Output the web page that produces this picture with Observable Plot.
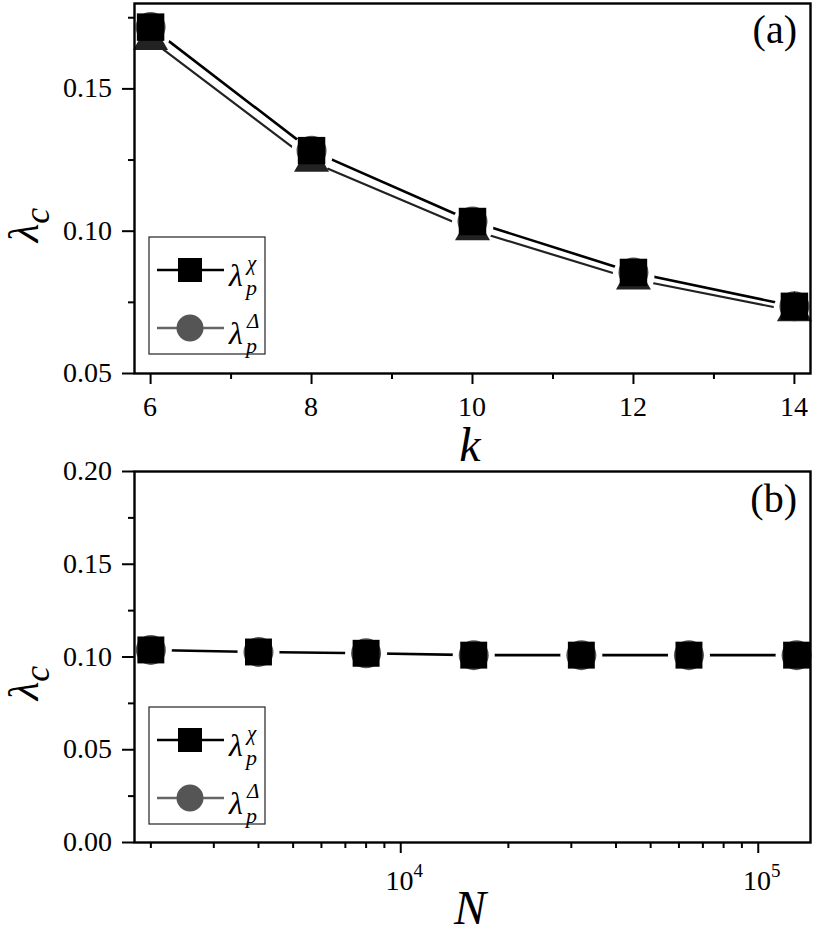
<!DOCTYPE html>
<html><head><meta charset="utf-8">
<script src="https://cdn.jsdelivr.net/npm/d3@7"></script>
<script src="https://cdn.jsdelivr.net/npm/@observablehq/plot@0.6"></script>
<style>
body{margin:0;background:#fff;}
#wrap{position:relative;width:813px;height:933px;overflow:hidden;}
#wrap svg{display:block;}
.lbl{position:absolute;line-height:1;white-space:nowrap;color:#000;}
</style></head><body><div id="wrap"></div>
<script>
// ---- data: panel (a) ----
const kValues = [6, 8, 10, 12, 14];
const lambdaChiK = [0.1717, 0.1283, 0.1034, 0.0855, 0.0736];
const lambdaDeltaK = [0.1717, 0.1283, 0.1034, 0.0855, 0.0736];
const lambdaTriK = [0.1672, 0.1244, 0.1004, 0.0831, 0.0719];
const yTicksA = [0.05, 0.10, 0.15];
const yMinorA = [0.075, 0.125, 0.175];
const xTicksA = [6, 8, 10, 12, 14];
const xMinorA = [7, 9, 11, 13];
// ---- data: panel (b) ----
const nValues = [2000, 4000, 8000, 16000, 32000, 64000, 128000];
const lambdaChiN = [0.1038, 0.1027, 0.1020, 0.1010, 0.1010, 0.1010, 0.1010];
const lambdaDeltaN = [0.1038, 0.1027, 0.1020, 0.1010, 0.1010, 0.1010, 0.1010];
const yTicksB = [0, 0.05, 0.10, 0.15, 0.20];
const yMinorB = [0.025, 0.075, 0.125, 0.175];
const xTicksB = [1e4, 1e5];
const xMinorB = [2000, 3000, 4000, 5000, 6000, 7000, 8000, 9000, 20000, 30000, 40000, 50000, 60000, 70000, 80000, 90000];
const legendSup = ["χ", "Δ"];
const panelLabels = ["(a)", "(b)"];
const xLabels = ["k", "N"];

const SERIF = '"Liberation Serif"';
const rowsA = kValues.map((k, i) => ({k, chi: lambdaChiK[i], delta: lambdaDeltaK[i], tri: lambdaTriK[i]}));
const rowsB = nValues.map((n, i) => ({n, chi: lambdaChiN[i], delta: lambdaDeltaN[i]}));
const blank = () => "";
const wrap = document.getElementById("wrap");

const plotA = Plot.plot({
  width: 813, height: 450,
  marginLeft: 134, marginRight: 3, marginTop: 3, marginBottom: 77,
  style: {background: "white", color: "black"},
  x: {domain: [5.8, 14.2]},
  y: {domain: [0.05, 0.18]},
  marks: [
    Plot.line(rowsA, {x: "k", y: "tri", stroke: "#222", strokeWidth: 2.2}),
    Plot.line(rowsA, {x: "k", y: "chi", stroke: "#000", strokeWidth: 2.6}),
    Plot.dot(rowsA, {x: "k", y: "chi", r: 21, fill: "white", dy: 4}),
    Plot.dot(rowsA, {x: "k", y: "delta", symbol: "circle", r: 15, fill: "#555"}),
    Plot.dot(rowsA, {x: "k", y: "tri", symbol: "triangle", r: 13, fill: "#222"}),
    Plot.dot(rowsA, {x: "k", y: "chi", symbol: "square", r: 15.5, fill: "#000"}),
    Plot.frame({stroke: "#000", strokeWidth: 2.4}),
    Plot.axisY({ticks: yTicksA, tickSize: 12, tickFormat: blank, strokeWidth: 2, label: null}),
    Plot.axisY({ticks: yMinorA, tickSize: 6, tickFormat: blank, strokeWidth: 2, label: null}),
    Plot.axisX({ticks: xTicksA, tickSize: 11, tickFormat: blank, strokeWidth: 2, label: null}),
    Plot.axisX({ticks: xMinorA, tickSize: 6, tickFormat: blank, strokeWidth: 2, label: null})
  ]
});

const plotB = Plot.plot({
  width: 813, height: 483,
  marginLeft: 134, marginRight: 3, marginTop: 21, marginBottom: 91,
  style: {background: "white", color: "black"},
  x: {type: "log", domain: [1800, 140000]},
  y: {domain: [0, 0.20]},
  marks: [
    Plot.line(rowsB, {x: "n", y: "chi", stroke: "#000", strokeWidth: 2.6}),
    Plot.dot(rowsB, {x: "n", y: "chi", r: 21, fill: "white"}),
    Plot.dot(rowsB, {x: "n", y: "delta", symbol: "circle", r: 15, fill: "#555"}),
    Plot.dot(rowsB, {x: "n", y: "chi", symbol: "square", r: 15.2, fill: "#000"}),
    Plot.frame({stroke: "#000", strokeWidth: 2.4}),
    Plot.axisY({ticks: yTicksB, tickSize: 12, tickFormat: blank, strokeWidth: 2, label: null}),
    Plot.axisY({ticks: yMinorB, tickSize: 6, tickFormat: blank, strokeWidth: 2, label: null}),
    Plot.axisX({ticks: xTicksB, tickSize: 11, tickFormat: blank, strokeWidth: 2, label: null}),
    Plot.axisX({ticks: xMinorB, tickSize: 6, tickFormat: blank, strokeWidth: 2, label: null})
  ]
});

wrap.appendChild(plotA);
wrap.appendChild(plotB);
const OFF_B = 450; // top of panel (b) svg in page

function serif(el) {
  el.style.setProperty("font-family", SERIF, "important");
  return el;
}
// HTML text placed by baseline (Liberation Serif baseline ≈ 0.8375em below box top at line-height 1)
function label(x, baseline, size, {text, html, italic = false, anchor = "middle"}) {
  const d = document.createElement("div");
  d.className = "lbl";
  serif(d);
  d.style.left = x + "px";
  d.style.top = (baseline - 0.8375 * size) + "px";
  d.style.fontSize = size + "px";
  d.style.fontStyle = italic ? "italic" : "normal";
  d.style.transform = `translateX(${anchor === "middle" ? -50 : anchor === "end" ? -100 : 0}%)`;
  if (html != null) d.innerHTML = html; else d.textContent = text;
  d.querySelectorAll("span").forEach(serif);
  wrap.appendChild(d);
  return d;
}
function yLabel(cx, cy) {
  const d = document.createElement("div");
  d.className = "lbl";
  serif(d);
  d.style.left = cx + "px";
  d.style.top = cy + "px";
  d.style.fontSize = "43px";
  d.style.fontStyle = "italic";
  d.style.transform = "translate(-50%,-50%) rotate(-90deg)";
  d.innerHTML = 'λ<span style="font-size:36px;position:relative;top:11px">c</span>';
  d.querySelectorAll("span").forEach(serif);
  wrap.appendChild(d);
}
function legend(plot, off, x0, y0) {
  const g = d3.select(plot).append("g");
  g.append("rect").attr("x", x0).attr("y", y0 - off).attr("width", 116).attr("height", 117)
    .attr("fill", "white").attr("stroke", "#333").attr("stroke-width", 1.3);
  const entries = [
    {dy: 33, line: "#000", fill: "#000", shape: "square", sup: legendSup[0]},
    {dy: 91, line: "#666", fill: "#555", shape: "circle", sup: legendSup[1]}
  ];
  entries.forEach(e => {
    const cy = y0 + e.dy, cx = x0 + 41;
    g.append("line").attr("x1", x0 + 8).attr("x2", x0 + 75).attr("y1", cy - off).attr("y2", cy - off)
      .attr("stroke", e.line).attr("stroke-width", 2.6);
    if (e.shape === "square") g.append("rect").attr("x", cx - 12).attr("y", cy - off - 12).attr("width", 24).attr("height", 24).attr("fill", e.fill);
    else g.append("circle").attr("cx", cx).attr("cy", cy - off).attr("r", 13.5).attr("fill", e.fill);
    label(x0 + 80, cy + 16, 32, {text: "λ", italic: true, anchor: "start"});
    label(x0 + 98, cy + 1, 21, {text: e.sup, italic: true, anchor: "start"});
    label(x0 + 97, cy + 25, 22, {text: "p", italic: true, anchor: "start"});
  });
}

const fmt2 = d3.format(".2f");
// panel (a) texts
{
  const sx = plotA.scale("x"), sy = plotA.scale("y");
  yTicksA.forEach(v => label(112, sy.apply(v) + 9.5, 28, {text: fmt2(v), anchor: "end"}));
  xTicksA.forEach(v => label(sx.apply(v), 416, 28, {text: String(v)}));
  label(470, 461, 48, {text: xLabels[0], italic: true});
  label(797, 43, 40, {text: panelLabels[0], anchor: "end"});
  yLabel(22.5, 225);
  legend(plotA, 0, 149, 237);
}
// panel (b) texts
{
  const sx = plotB.scale("x"), sy = plotB.scale("y");
  yTicksB.forEach(v => label(112, sy.apply(v) + OFF_B + 9.5, 28, {text: fmt2(v), anchor: "end"}));
  xTicksB.forEach(v => label(sx.apply(v) + 4, 890, 28,
    {html: `10<span style="font-size:19px;position:relative;top:-13px">${Math.round(Math.log10(v))}</span>`}));
  label(470, 924, 48, {text: xLabels[1], italic: true});
  label(797, 512, 40, {text: panelLabels[1], anchor: "end"});
  yLabel(22.5, 683);
  legend(plotB, OFF_B, 149, 707);
}
</script>
</body></html>
